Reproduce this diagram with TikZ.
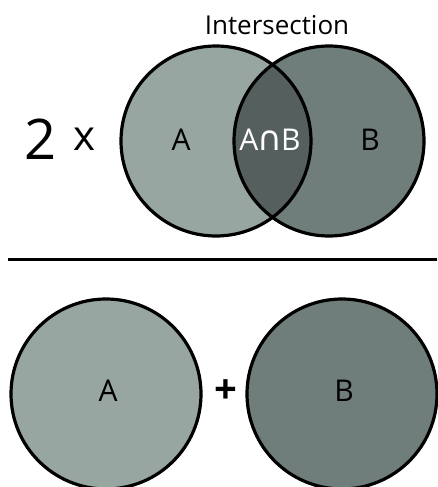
\documentclass[tikz,border=0pt]{standalone}
\usepackage{fontspec}
\setmainfont{Open Sans}
\newfontfamily\dejavu{DejaVu Sans}
\definecolor{cA}{HTML}{98A6A2}
\definecolor{cB}{HTML}{6F7D7B}
\definecolor{cAB}{HTML}{55605E}
\begin{document}
\begin{tikzpicture}[x=1pt,y=-1pt,
  ring/.style={draw=black,line width=3.2pt},
  lbl/.style={font=\fontsize{30}{30}\selectfont,inner sep=0pt}]
\useasboundingbox (0,0) rectangle (437,487);
% top venn
\fill[cA] (216,141) circle (95);
\fill[cB] (329,141) circle (95);
\begin{scope}
  \clip (216,141) circle (95);
  \fill[cAB] (329,141) circle (95);
\end{scope}
\draw[ring] (216,141) circle (95);
\draw[ring] (329,141) circle (95);
\node[lbl,font=\fontsize{26}{26}\selectfont] (title) at (277,25) {Intersection};
\node[lbl,font=\fontsize{56}{56}\selectfont] (two) at (41,139) {2};
\node[lbl,font=\fontsize{42}{42}\selectfont] (times) at (85,139) {x};
\node[lbl] (a1) at (181,140) {A};
\node[lbl,text=white,anchor=base] (ab) at (270,150) {A\hspace{-1pt}{\dejavu\fontsize{34}{34}\selectfont ∩}\hspace{-1pt}B};
\node[lbl] (b1) at (370,140) {B};
% divider
\coordinate (l1) at (8,259);
\coordinate (l2) at (437,259);
\draw[line width=3pt] (l1) -- (l2);
% bottom
\draw[ring,fill=cA] (106,394) circle (95);
\draw[ring,fill=cB] (342,394) circle (95);
\node[lbl] (a2) at (108,391) {A};
\node[lbl,font=\fontsize{40}{40}\selectfont\bfseries] (plus) at (226,392) {+};
\node[lbl] (b2) at (344,391) {B};
\end{tikzpicture}
\end{document}
